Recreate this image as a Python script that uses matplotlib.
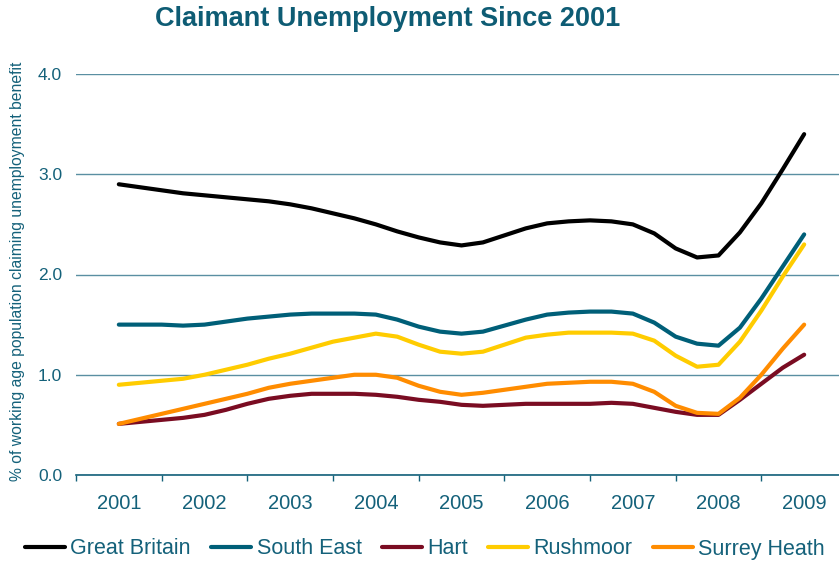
import matplotlib
matplotlib.use("Agg")
import matplotlib.pyplot as plt
from matplotlib.ticker import MultipleLocator, FixedLocator, FixedFormatter

plt.rcParams['font.family'] = ['Liberation Sans', 'DejaVu Sans']

# quarterly readings, 2001 Q1 .. 2009 Q1 (33 points)
years = ['2001', '2002', '2003', '2004', '2005', '2006', '2007', '2008', '2009']

great_britain = [2.90, 2.87, 2.84, 2.81, 2.79, 2.77, 2.75, 2.73, 2.70, 2.66,
                 2.61, 2.56, 2.50, 2.43, 2.37, 2.32, 2.29, 2.32, 2.39, 2.46,
                 2.51, 2.53, 2.54, 2.53, 2.50, 2.41, 2.26, 2.17, 2.19, 2.42,
                 2.71, 3.05, 3.40]
south_east = [1.50, 1.50, 1.50, 1.49, 1.50, 1.53, 1.56, 1.58, 1.60, 1.61,
              1.61, 1.61, 1.60, 1.55, 1.48, 1.43, 1.41, 1.43, 1.49, 1.55,
              1.60, 1.62, 1.63, 1.63, 1.61, 1.52, 1.38, 1.31, 1.29, 1.47,
              1.76, 2.08, 2.40]
hart = [0.51, 0.53, 0.55, 0.57, 0.60, 0.65, 0.71, 0.76, 0.79, 0.81,
        0.81, 0.81, 0.80, 0.78, 0.75, 0.73, 0.70, 0.69, 0.70, 0.71,
        0.71, 0.71, 0.71, 0.72, 0.71, 0.67, 0.63, 0.60, 0.60, 0.75,
        0.91, 1.07, 1.20]
rushmoor = [0.90, 0.92, 0.94, 0.96, 1.00, 1.05, 1.10, 1.16, 1.21, 1.27,
            1.33, 1.37, 1.41, 1.38, 1.30, 1.23, 1.21, 1.23, 1.30, 1.37,
            1.40, 1.42, 1.42, 1.42, 1.41, 1.34, 1.19, 1.08, 1.10, 1.33,
            1.64, 1.98, 2.30]
surrey_heath = [0.51, 0.56, 0.61, 0.66, 0.71, 0.76, 0.81, 0.87, 0.91, 0.94,
                0.97, 1.00, 1.00, 0.97, 0.89, 0.83, 0.80, 0.82, 0.85, 0.88,
                0.91, 0.92, 0.93, 0.93, 0.91, 0.83, 0.69, 0.62, 0.61, 0.77,
                1.00, 1.26, 1.50]

series = [
    ('Great Britain', great_britain, '#000000'),
    ('South East', south_east, '#005f78'),
    ('Hart', hart, '#7a0c22'),
    ('Rushmoor', rushmoor, '#ffcc00'),
    ('Surrey Heath', surrey_heath, '#ff8c00'),
]

TEXT = '#14617a'
GRID = '#5a8fa2'

x = [i / 4 for i in range(len(great_britain))]

fig = plt.figure(figsize=(8.39, 5.63), dpi=100)
ax = fig.add_axes([76 / 839, 1 - 475 / 563, 771 / 839, 401 / 563])

for name, vals, col in series:
    ax.plot(x, vals, color=col, lw=3, label=name,
            solid_joinstyle='round', solid_capstyle='round')

ax.set_xlim(-0.5, 8.5)
ax.set_ylim(0, 4)
ax.yaxis.set_major_locator(MultipleLocator(1))
ax.yaxis.set_major_formatter(plt.FuncFormatter(lambda v, p: f'{v:.1f}'))
ax.grid(axis='y', color=GRID, lw=1)
ax.set_axisbelow(True)

ax.xaxis.set_major_locator(FixedLocator(range(len(years))))
ax.xaxis.set_major_formatter(FixedFormatter(years))
ax.xaxis.set_minor_locator(FixedLocator([i - 0.5 for i in range(len(years) + 1)]))
ax.tick_params(axis='x', which='major', length=0, pad=14, labelsize=14.5, labelcolor=TEXT)
ax.tick_params(axis='x', which='minor', length=4.5, width=1, color=TEXT)
ax.tick_params(axis='y', length=0, pad=10, labelsize=12.5, labelcolor=TEXT)

for s in ['top', 'right', 'left']:
    ax.spines[s].set_visible(False)
ax.spines['bottom'].set_color(TEXT)
ax.spines['bottom'].set_linewidth(1.2)

fig.text(388 / 839, 1 - 19 / 563, 'Claimant Unemployment Since 2001',
         ha='center', va='center', fontsize=19.5, fontweight='bold', color='#0e5c74')
fig.text(18 / 839, 1 - 271 / 563,
         '% of working age population claiming unemployment benefit',
         rotation=90, ha='center', va='center', fontsize=11.3, color=TEXT)

leg = fig.legend(loc='center', bbox_to_anchor=(425 / 839, 1 - 549 / 563), ncol=5,
                 frameon=False, fontsize=15.5, handlelength=1.85, handletextpad=0.25,
                 columnspacing=0.95, borderaxespad=0)
for t in leg.get_texts():
    t.set_color(TEXT)

fig.savefig('out.png', dpi=100)
